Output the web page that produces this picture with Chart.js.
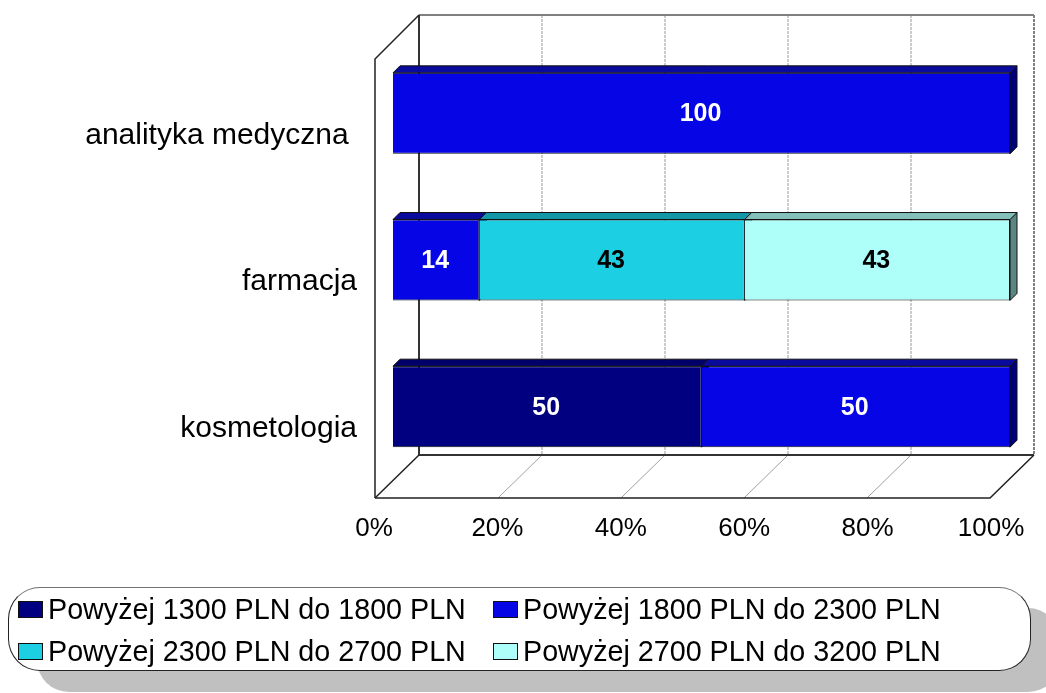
<!DOCTYPE html>
<html>
<head>
<meta charset="utf-8">
<script src="https://cdn.jsdelivr.net/npm/chart.js@4"></script>
<style>
html, body { margin: 0; padding: 0; background: #fff; overflow: hidden; width: 1046px; height: 693px; }
#wrap { position: relative; width: 1046px; height: 693px; overflow: hidden; }
canvas { position: absolute; left: 0; top: 0; }
#legend {
    position: absolute; left: 8px; top: 587px; width: 1012px; height: 82px;
    background: #fff; border: 1px solid #222; border-top-color: #707070; border-radius: 32px;
    box-shadow: 29px 21px 0 #c0c0c0;
    display: grid; grid-template-columns: 475px 475px; grid-auto-rows: 42px;
    padding-left: 9px; box-sizing: content-box;
    font: 28.7px "Liberation Sans", Arial, sans-serif; color: #000;
}
#legend div { display: flex; align-items: center; white-space: nowrap; }
#legend i { display: block; width: 23px; height: 15px; border: 1px solid #111; margin-right: 5px; }
</style>
</head>
<body>
<div id="wrap">
    <canvas id="salaryChart" width="1046" height="693"></canvas>
    <div id="legend"></div>
</div>
<script>
const categories = ['analityka medyczna\u00a0', 'farmacja', 'kosmetologia'];
const seriesNames = [
    'Powyżej 1300 PLN do 1800 PLN',
    'Powyżej 1800 PLN do 2300 PLN',
    'Powyżej 2300 PLN do 2700 PLN',
    'Powyżej 2700 PLN do 3200 PLN'
];
const band1300 = [null, null, 50];
const band1800 = [100, 14, 50];
const band2300 = [null, 43, null];
const band2700 = [null, 43, null];
const xTicks = [0, 20, 40, 60, 80, 100];

const colors = ['#000080', '#0505e6', '#1ccfe3', '#aefffa'];
const topColors = ['#000068', '#0a0a9c', '#1498a8', '#84c0bb'];
const sideColors = ['#00004c', '#00007c', '#0e6a75', '#5a8580'];
const labelColors = ['#fff', '#fff', '#000', '#000'];
const fontFamily = '"Liberation Sans", Arial, sans-serif';
const barDepth = 7;

// back wall, side wall and floor of the fake 3D box
const box3d = {
    id: 'box3d',
    beforeDatasetsDraw(chart) {
        const ctx = chart.ctx;
        const x = chart.scales.x;
        const area = chart.chartArea;
        const frontX = v => x.getPixelForValue(v) - 18 - v * 0.02;
        const backX = v => frontX(v) + 44;
        const frontBottom = area.bottom + 18;
        const backBottom = area.bottom - 25;
        const backTop = area.top - 25;
        const frontTop = area.top + 19;

        const line = (color, width, dash, pts) => {
            ctx.save();
            ctx.strokeStyle = color;
            ctx.lineWidth = width;
            ctx.setLineDash(dash);
            ctx.beginPath();
            pts.forEach((p, i) => i ? ctx.lineTo(p[0], p[1]) : ctx.moveTo(p[0], p[1]));
            ctx.stroke();
            ctx.restore();
        };

        xTicks.slice(1, -1).forEach(v => {
            line('#999', 1, [3, 1], [[backX(v), backTop], [backX(v), backBottom]]);
            line('#a0a0a0', 1, [], [[frontX(v), frontBottom], [backX(v), backBottom]]);
        });
        line('#808080', 2, [], [[backX(0), backTop], [backX(100), backTop]]);
        line('#808080', 2, [3, 1], [[backX(100), backTop], [backX(100), backBottom]]);
        line('#333', 2, [], [[backX(0), backTop], [backX(0), backBottom], [backX(100), backBottom]]);
        line('#222', 1.5, [], [[frontX(0), frontBottom], [frontX(0), frontTop], [backX(0), backTop]]);
        line('#222', 1.5, [], [[frontX(0), frontBottom], [backX(0), backBottom]]);
        line('#222', 1.5, [], [[frontX(0), frontBottom], [frontX(100), frontBottom], [backX(100), backBottom]]);

        // top and end faces of the bars
        chart.data.datasets.forEach((ds, i) => {
            chart.getDatasetMeta(i).data.forEach((bar, j) => {
                if (ds.data[j] == null) return;
                const t = bar.y - bar.height / 2;
                const b = bar.y + bar.height / 2;
                ctx.save();
                ctx.strokeStyle = '#111';
                ctx.lineWidth = 1;
                ctx.fillStyle = sideColors[i];
                ctx.beginPath();
                ctx.moveTo(bar.x, t);
                ctx.lineTo(bar.x + barDepth, t - barDepth);
                ctx.lineTo(bar.x + barDepth, b - barDepth);
                ctx.lineTo(bar.x, b);
                ctx.closePath();
                ctx.fill();
                ctx.stroke();
                ctx.fillStyle = topColors[i];
                ctx.beginPath();
                ctx.moveTo(bar.base, t);
                ctx.lineTo(bar.base + barDepth, t - barDepth);
                ctx.lineTo(bar.x + barDepth, t - barDepth);
                ctx.lineTo(bar.x, t);
                ctx.closePath();
                ctx.fill();
                ctx.stroke();
                ctx.restore();
            });
        });
    },
    afterDatasetsDraw(chart) {
        const ctx = chart.ctx;
        ctx.save();
        ctx.font = 'bold 25px ' + fontFamily;
        ctx.textAlign = 'center';
        ctx.textBaseline = 'middle';
        chart.data.datasets.forEach((ds, i) => {
            chart.getDatasetMeta(i).data.forEach((bar, j) => {
                if (ds.data[j] == null) return;
                ctx.fillStyle = labelColors[i];
                ctx.fillText(ds.data[j], (bar.x + bar.base) / 2 - 1, bar.y + 1);
            });
        });
        ctx.restore();
    }
};

// tick padding would otherwise eat into the plot area
const noScalePadding = scale => {
    scale.paddingTop = scale.paddingBottom = scale.paddingLeft = scale.paddingRight = 0;
};

const salaryChart = new Chart(document.getElementById('salaryChart').getContext('2d'), {
    type: 'bar',
    data: {
        labels: categories,
        datasets: [band1300, band1800, band2300, band2700].map((values, i) => ({
            label: seriesNames[i],
            data: values,
            backgroundColor: colors[i],
            borderColor: '#111',
            borderWidth: 1
        }))
    },
    options: {
        indexAxis: 'y',
        responsive: false,
        animation: false,
        layout: { padding: { top: 40, right: 36, bottom: 153, left: 0 } },
        datasets: { bar: { categoryPercentage: 1, barPercentage: 0.552 } },
        plugins: { legend: { display: false }, tooltip: { enabled: false } },
        scales: {
            x: {
                stacked: true,
                min: 0,
                max: 100,
                grid: { display: false, drawTicks: false },
                border: { display: false },
                afterBuildTicks: scale => { scale.ticks = xTicks.map(value => ({ value })); },
                afterFit: scale => { scale.height = 60; noScalePadding(scale); },
                ticks: {
                    color: '#000',
                    font: { family: fontFamily, size: 26 },
                    padding: 33,
                    labelOffset: -19,
                    maxRotation: 0,
                    callback: v => v + '%'
                }
            },
            y: {
                stacked: true,
                grid: { display: false, drawTicks: false },
                border: { display: false },
                afterFit: scale => { scale.width = 393; noScalePadding(scale); },
                ticks: {
                    color: '#000',
                    font: { family: fontFamily, size: 30 },
                    padding: 36,
                    labelOffset: 22
                }
            }
        }
    },
    plugins: [box3d]
});

const legend = document.getElementById('legend');
seriesNames.forEach((name, i) => {
    const item = document.createElement('div');
    const mark = document.createElement('i');
    mark.style.background = colors[i];
    item.appendChild(mark);
    item.appendChild(document.createTextNode(name));
    legend.appendChild(item);
});
</script>
</body>
</html>
